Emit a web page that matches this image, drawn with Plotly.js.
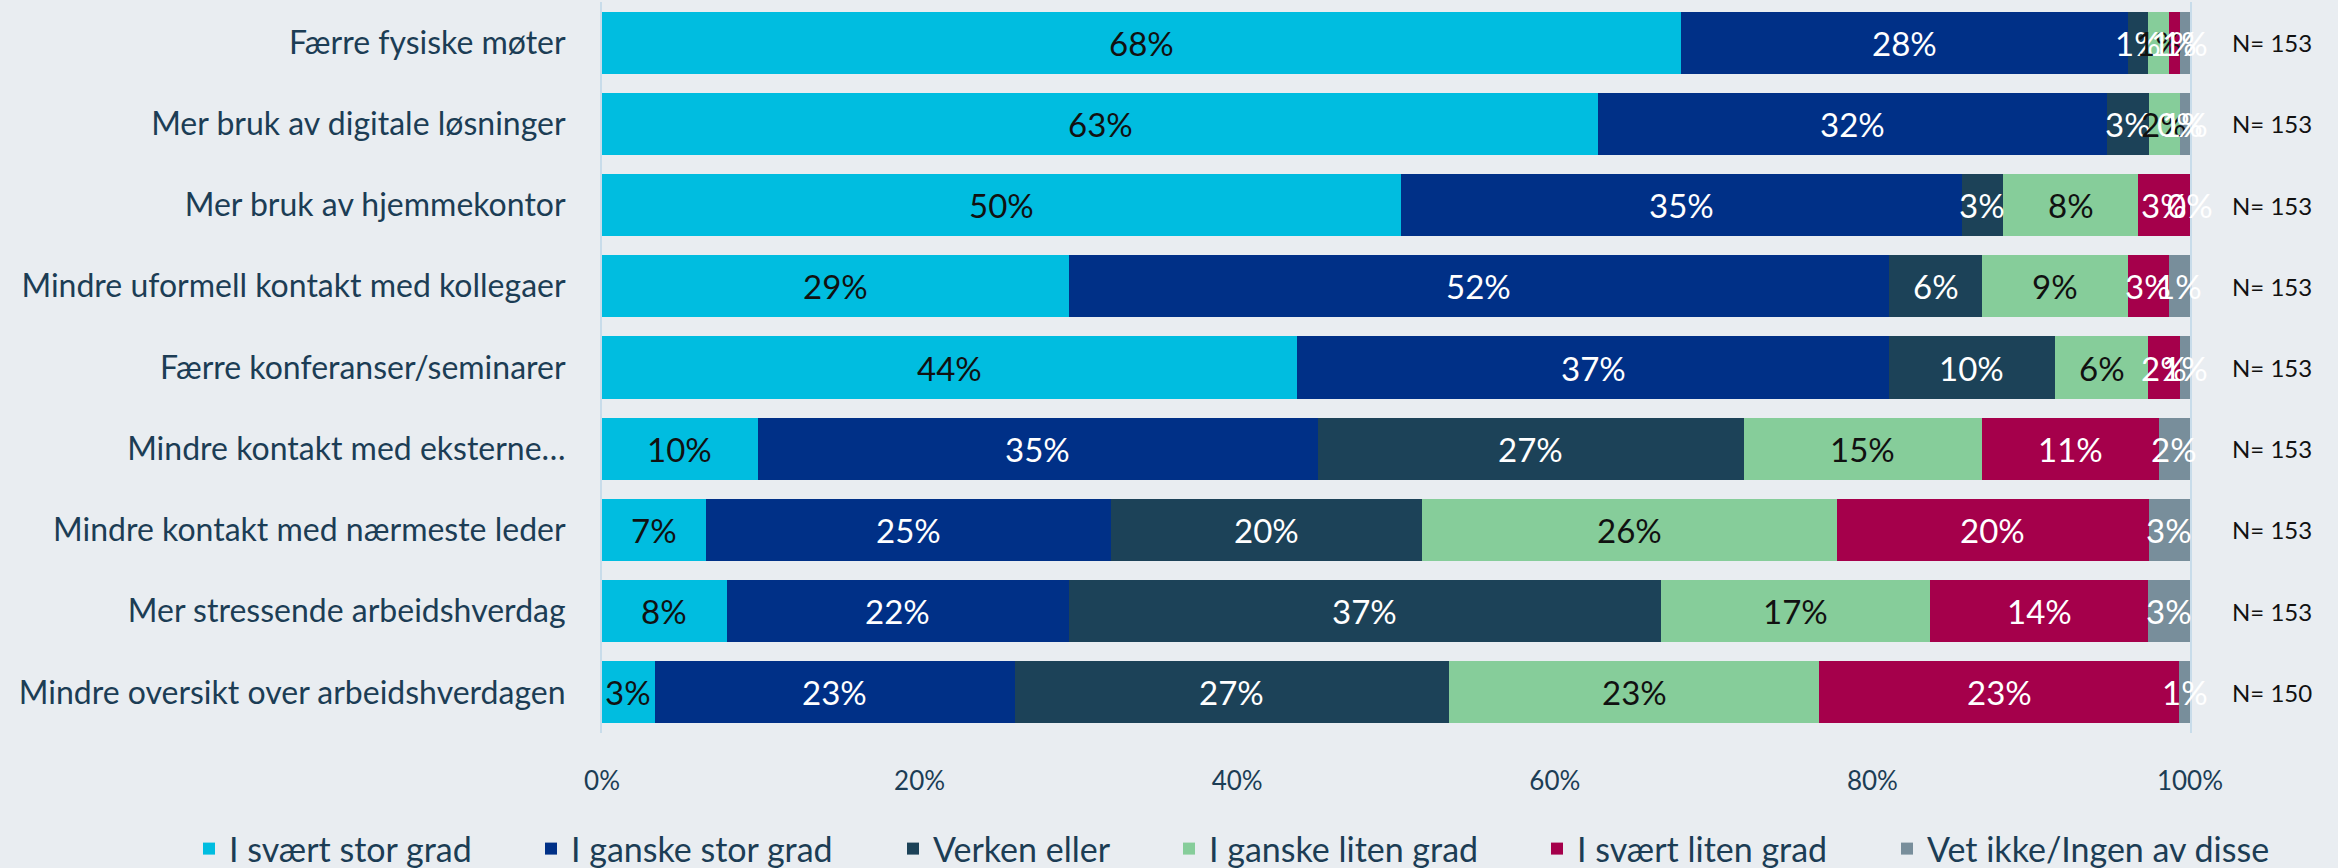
<!DOCTYPE html>
<html>
<head>
<meta charset="utf-8">
<script src="https://cdn.plot.ly/plotly-3.0.1.min.js"></script>
<style>
html,body{margin:0;padding:0;background:#e9edf1;}
#chart{width:2338px;height:868px;}
</style>
</head>
<body>
<div id="chart"></div>
<script>
const categories = [
  "Færre fysiske møter",
  "Mer bruk av digitale løsninger",
  "Mer bruk av hjemmekontor",
  "Mindre uformell kontakt med kollegaer",
  "Færre konferanser/seminarer",
  "Mindre kontakt med eksterne…",
  "Mindre kontakt med nærmeste leder",
  "Mer stressende arbeidshverdag",
  "Mindre oversikt over arbeidshverdagen"
];
const nLabels = ["N= 153","N= 153","N= 153","N= 153","N= 153","N= 153","N= 153","N= 153","N= 150"];
const seriesNames = ["I svært stor grad","I ganske stor grad","Verken eller","I ganske liten grad","I svært liten grad","Vet ikke/Ingen av disse"];
const sværtStor   = [67.97, 62.75, 50.33, 29.41, 43.79,  9.80,  6.54,  7.84,  3.33];
const ganskeStor  = [28.10, 32.03, 35.29, 51.63, 37.25, 35.29, 25.49, 21.57, 22.67];
const verken      = [ 1.31,  2.61,  2.61,  5.88, 10.46, 26.80, 19.61, 37.25, 27.33];
const ganskeLiten = [ 1.31,  1.96,  8.49,  9.15,  5.88, 15.03, 26.14, 16.99, 23.33];
const sværtLiten  = [ 0.65,  0.00,  3.27,  2.61,  1.96, 11.11, 19.61, 13.73, 22.67];
const vetIkke     = [ 0.65,  0.65,  0.00,  1.31,  0.65,  1.96,  2.61,  2.61,  0.67];

const allSeries = [sværtStor, ganskeStor, verken, ganskeLiten, sværtLiten, vetIkke];
const colors = ["#00bde0","#003087","#1c4258","#86cd9a","#a5004b","#788e9b"];
const labelColors = ["#111111","#ffffff","#ffffff","#111111","#ffffff","#ffffff"];
const FONT = "Lato, 'Open Sans', sans-serif";

// legend text start positions (px) – layout only
const legendTextPx = [229, 571, 933, 1209, 1577, 1927];
const plotLeft = 602, plotW = 1588, plotTop = 2, plotBottom = 733;
const legendKeys = ["legend","legend2","legend3","legend4","legend5","legend6"];

const traces = allSeries.map((vals, i) => ({
  type: "bar",
  orientation: "h",
  name: seriesNames[i],
  x: vals,
  y: categories,
  legend: legendKeys[i],
  showlegend: true,
  marker: {color: colors[i], line: {width: 0}},
  hoverinfo: "skip"
}));

const annotations = [];
categories.forEach((cat, r) => {
  let cum = 0;
  allSeries.forEach((vals, i) => {
    const v = vals[r];
    annotations.push({
      x: cum + v / 2, y: cat, xref: "x", yref: "y",
      text: Math.round(v) + "%",
      showarrow: false,
      font: {family: FONT, size: 33, color: labelColors[i]}
    });
    cum += v;
  });
  annotations.push({
    x: 1.025, xref: "paper", y: cat, yref: "y", xanchor: "left",
    text: nLabels[r], showarrow: false,
    font: {family: FONT, size: 24, color: "#111111"}
  });
});

const layout = {
  width: 2338, height: 868,
  showlegend: true,
  paper_bgcolor: "#e9edf1", plot_bgcolor: "#e9edf1",
  barmode: "stack", bargap: 0.235,
  margin: {l: plotLeft, r: 2338 - plotLeft - plotW, t: plotTop, b: 868 - plotBottom, autoexpand: false},
  font: {family: FONT, color: "#1c3d55"},
  xaxis: {
    range: [0, 100], tickvals: [0,20,40,60,80,100], ticktext: ["0%","20%","40%","60%","80%","100%"],
    showgrid: false, zeroline: false, showline: false, ticks: "",
    tickfont: {family: FONT, size: 26, color: "#1c3d55"},
    ticklabelstandoff: 30, fixedrange: true, automargin: false
  },
  yaxis: {
    autorange: "reversed", showgrid: false, zeroline: false,
    showline: true, mirror: true, linecolor: "#c8dcea", linewidth: 2,
    ticks: "", tickfont: {family: FONT, size: 32, color: "#1c3d55"},
    ticklabelstandoff: 28, fixedrange: true, automargin: false
  },
  annotations: annotations
};

const plotH = plotBottom - plotTop;
legendKeys.forEach((k, i) => {
  layout[k] = {
    orientation: "h",
    x: (legendTextPx[i] - 40 - plotLeft) / plotW, xanchor: "left",
    y: -(849 - plotBottom) / plotH, yanchor: "middle",
    font: {family: FONT, size: 34, color: "#1c3d55"},
    bgcolor: "rgba(0,0,0,0)"
  };
});

Plotly.newPlot("chart", traces, layout, {displayModeBar: false, staticPlot: true});
</script>
</body>
</html>
